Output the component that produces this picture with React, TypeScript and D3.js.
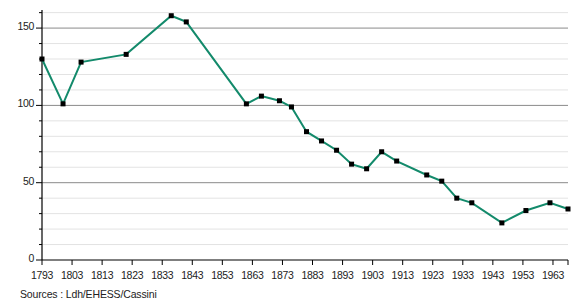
import React from "react";
import * as d3 from "d3";

const years = [1793, 1800, 1806, 1821, 1836, 1841, 1861, 1866, 1872, 1876, 1881, 1886, 1891, 1896, 1901, 1906, 1911, 1921, 1926, 1931, 1936, 1946, 1954, 1962, 1968];
const population = [130, 101, 128, 133, 158, 154, 101, 106, 103, 99, 83, 77, 71, 62, 59, 70, 64, 55, 51, 40, 37, 24, 32, 37, 33];
const xTicks = [1793, 1803, 1813, 1823, 1833, 1843, 1853, 1863, 1873, 1883, 1893, 1903, 1913, 1923, 1933, 1943, 1953, 1963];
const yMajor = [0, 50, 100, 150];
const yMinor = [10, 20, 30, 40, 60, 70, 80, 90, 110, 120, 130, 140, 160];
const source = "Sources : Ldh/EHESS/Cassini";

export default function App() {
  const W = 578, H = 300;
  const left = 42, right = 568, top = 10, bottom = 260;
  const x = d3.scaleLinear().domain([1793, 1968]).range([left, right]);
  const y = d3.scaleLinear().domain([0, 161.7]).range([bottom, top]);
  const line = d3.line<number>().x((_, i) => x(years[i])).y((d) => y(d));
  const font = "'Liberation Sans', Arial, sans-serif";
  return (
    <svg width={W} height={H} style={{ position: "absolute", left: 0, top: 0 }} fontFamily={font}>
      <rect width={W} height={H} fill="#fff" />
      {yMinor.map((v) => (
        <g key={"mi" + v}>
          <line x1={left} x2={right} y1={y(v)} y2={y(v)} stroke="#e3e3e3" strokeWidth={1} />
          <line x1={left - 3} x2={left} y1={y(v)} y2={y(v)} stroke="#000" strokeWidth={1} />
        </g>
      ))}
      {yMajor.map((v) => (
        <g key={"ma" + v}>
          {v > 0 && <line x1={left} x2={right} y1={y(v)} y2={y(v)} stroke="#8a8a8a" strokeWidth={1} />}
          <line x1={left - 6} x2={left} y1={y(v)} y2={y(v)} stroke="#000" strokeWidth={1} />
          <text x={left - 8} y={y(v)} dy="0.2em" textAnchor="end" fontSize={10.5} letterSpacing={-0.3} fill="#222">{v}</text>
        </g>
      ))}
      <line x1={left} x2={left} y1={top} y2={bottom} stroke="#000" strokeWidth={1.2} />
      <line x1={left} x2={right} y1={bottom} y2={bottom} stroke="#000" strokeWidth={1.2} />
      {xTicks.map((t) => (
        <g key={"xt" + t}>
          <line x1={x(t)} x2={x(t)} y1={bottom} y2={bottom + 5} stroke="#000" strokeWidth={1} />
          <text x={x(t)} y={bottom + 19} textAnchor="middle" fontSize={10.5} letterSpacing={-0.3} fill="#222">{t}</text>
        </g>
      ))}
      <line x1={right} x2={right} y1={bottom} y2={bottom + 5} stroke="#000" strokeWidth={1} />
      <path d={line(population) || ""} fill="none" stroke="#138a6b" strokeWidth={2} />
      {population.map((v, i) => (
        <rect key={"p" + i} x={x(years[i]) - 2.5} y={y(v) - 2.5} width={5} height={5} fill="#000" />
      ))}
      <text x={20} y={298} fontSize={10.5} letterSpacing={-0.15} fill="#222">{source}</text>
    </svg>
  );
}
